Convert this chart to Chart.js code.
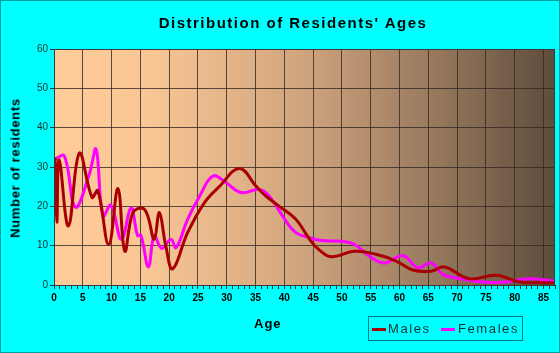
<!DOCTYPE html>
<html>
<head>
<meta charset="utf-8">
<script src="https://cdn.jsdelivr.net/npm/chart.js@4.4.1/dist/chart.umd.min.js"></script>
<style>
  body { margin: 0; }
  #wrap { position: relative; width: 560px; height: 353px; background: #00FFFF; box-sizing: border-box; border: 1px solid #00A0A0; font-family: "Liberation Sans", Arial, sans-serif; }
  #c { position: absolute; left: -1px; top: -1px; }
  .lbl { position: absolute; font-weight: bold; color: #000; white-space: nowrap; }
  #title { left: 0; width: 584px; top: 13px; text-align: center; font-size: 15px; letter-spacing: 1.5px; }
  #xtitle { left: 253px; top: 315px; font-size: 13px; letter-spacing: 1px; }
  #ytitle { left: 14px; top: 167px; font-size: 13px; transform: translate(-50%, -50%) rotate(-90deg); letter-spacing: 0.7px; }
  #legend { position: absolute; left: 367px; top: 315px; width: 153px; height: 23px; border: 1px solid #007C7C; font-size: 13px; letter-spacing: 1.6px; color: #103030; }
  #legend span.sw { position: absolute; top: 11px; width: 14px; height: 3px; }
  #legend span.tx { position: absolute; top: 4px; }
</style>
</head>
<body>
<div id="wrap">
  <canvas id="c" width="560" height="353"></canvas>
  <div class="lbl" id="title">Distribution of Residents' Ages</div>
  <div class="lbl" id="ytitle">Number of residents</div>
  <div class="lbl" id="xtitle">Age</div>
  <div id="legend">
    <span class="sw" style="left:3px;background:#A80000"></span><span class="tx" style="left:19px">Males</span>
    <span class="sw" style="left:72px;background:#FF00FF"></span><span class="tx" style="left:89px">Females</span>
  </div>
</div>
<script>
// values (age, number of residents)
const maleAges = [0.2, 0.5, 0.9, 2.5, 4.4, 6.6, 7.6, 9.5, 11.1, 12.3, 13.7, 15.4, 16.3, 17.4, 18.3, 19.4, 20.6, 23.2, 26.1, 28.7, 32.2, 35.1, 36.8, 39.1, 42, 44.4, 46, 48.1, 52.2, 55.9, 59.4, 62.3, 65.5, 67.8, 72.1, 76.8, 80.8, 84.3, 87];
const maleCounts = [32.4, 16, 31.8, 15, 33.5, 22.3, 24, 10.3, 24.5, 8.6, 18.4, 19.5, 17.5, 11.6, 18.4, 10, 4.1, 13.3, 20.9, 25, 29.6, 25.1, 22.6, 20, 16.7, 11.6, 9, 7.2, 8.6, 7.8, 6.1, 3.8, 3.5, 4.6, 1.6, 2.5, 0.8, 0.6, 0.6];

const femaleAges = [0.1, 1.8, 3.7, 6.1, 7.3, 8.5, 9.9, 11.7, 13.4, 14.5, 15.1, 16.4, 17.4, 18.7, 20.3, 21.2, 23.2, 25.3, 27.6, 29.9, 32.5, 35.7, 37.4, 39.7, 42, 44.4, 46.5, 50.1, 52.2, 54.8, 57.4, 60.6, 63.2, 65.5, 67.5, 69.8, 75, 78, 82.5, 87];
const femaleCounts = [32, 32.8, 19.8, 28, 34.5, 17.5, 20.3, 11.6, 19.6, 12.6, 12.6, 4.6, 12.5, 9.3, 11.6, 9.5, 16.7, 22.6, 27.7, 26, 23.5, 24.3, 22.6, 17.5, 13.3, 12, 11.3, 11.1, 10.3, 7.3, 5.6, 7.5, 4.4, 5.6, 2.7, 1.8, 0.7, 0.7, 1.6, 1];

const yTicks = [0, 10, 20, 30, 40, 50, 60];

function pts(xs, ys) {
  return xs.map((x, i) => ({ x: x, y: ys[i] }));
}

// plot area background + frame
const plotBg = {
  id: 'plotBg',
  beforeDraw(chart) {
    const { ctx, chartArea: a } = chart;
    const g = ctx.createLinearGradient(a.left, 0, a.right, 0);
    g.addColorStop(0, '#FFCC99');
    g.addColorStop(0.2, '#F8C594');
    g.addColorStop(0.5, '#CFA47D');
    g.addColorStop(0.75, '#997B5F');
    g.addColorStop(1, '#5E4C3B');
    ctx.save();
    ctx.fillStyle = g;
    ctx.fillRect(a.left, a.top, a.right - a.left, a.bottom - a.top);
    ctx.restore();
  },
  afterDraw(chart) {
    const { ctx, chartArea: a } = chart;
    ctx.save();
    ctx.strokeStyle = '#3A3A3A';
    ctx.lineWidth = 1;
    ctx.strokeRect(a.left + 0.5, a.top + 0.5, a.right - a.left - 1, a.bottom - a.top);
    ctx.restore();
  }
};

new Chart(document.getElementById('c'), {
  type: 'line',
  data: {
    datasets: [
      { label: 'Males', data: pts(maleAges, maleCounts), borderColor: '#A80000', borderWidth: 3, tension: 0.4, pointRadius: 0, fill: false },
      { label: 'Females', data: pts(femaleAges, femaleCounts), borderColor: '#FF00FF', borderWidth: 3, tension: 0.4, pointRadius: 0, fill: false }
    ]
  },
  options: {
    responsive: false,
    animation: false,
    layout: { padding: { left: 0, right: 5, top: 49, bottom: 0 } },
    plugins: { legend: { display: false }, title: { display: false }, tooltip: { enabled: false } },
    scales: {
      x: {
        type: 'linear',
        min: 0,
        max: 87,
        afterBuildTicks(scale) {
          const t = [];
          for (let i = 0; i <= 87; i++) t.push({ value: i });
          scale.ticks = t;
        },
        afterFit(scale) { scale.height = 68; },
        grid: {
          color: c => (c.tick && c.tick.value % 5 === 0 && c.tick.value > 0) ? 'rgba(50,40,34,0.8)' : 'rgba(0,0,0,0)',
          tickColor: '#1A3A3A',
          tickLength: 4,
          drawOnChartArea: true
        },
        border: { display: false },
        ticks: {
          autoSkip: false,
          maxRotation: 0,
          padding: 3,
          color: '#000',
          font: { family: 'Liberation Sans', size: 10, weight: 'bold' },
          callback: v => (v % 5 === 0 ? String(v) : '')
        }
      },
      y: {
        min: 0,
        max: 60,
        afterBuildTicks(scale) { scale.ticks = yTicks.map(v => ({ value: v })); },
        afterFit(scale) { scale.width = 54; },
        grid: { color: 'rgba(50,40,34,0.8)', tickColor: '#1A3A3A', tickLength: 4 },
        border: { display: false },
        ticks: {
          padding: 2,
          color: '#1A3030',
          font: { family: 'Liberation Sans', size: 10 }
        }
      }
    }
  },
  plugins: [plotBg]
});
</script>
</body>
</html>
